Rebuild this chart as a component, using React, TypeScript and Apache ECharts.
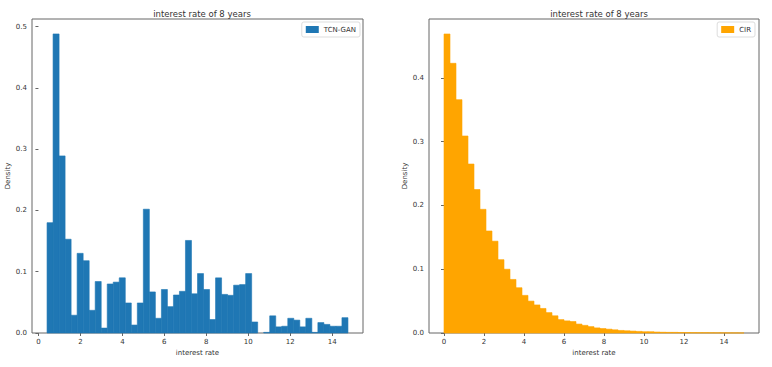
import React, { useEffect, useRef } from "react";
import * as echarts from "echarts";

// ---- Data ----
const titleText = "interest rate of 8 years";
const xAxisName = "interest rate";
const yAxisName = "Density";

// TCN-GAN histogram: 50 bins from 0.41 to 14.75
const tcnName = "TCN-GAN";
const tcnRange = [0.41, 14.75];
const tcnDensity = [
  0.18, 0.488, 0.289, 0.153, 0.029, 0.13, 0.118, 0.037, 0.084, 0.008,
  0.08, 0.083, 0.09, 0.049, 0.013, 0.049, 0.202, 0.067, 0.024, 0.071,
  0.043, 0.062, 0.068, 0.151, 0.064, 0.097, 0.071, 0.022, 0.09, 0.063,
  0.0615, 0.078, 0.079, 0.097, 0.018, 0.0, 0.001, 0.028, 0.01, 0.011,
  0.024, 0.021, 0.01, 0.024, 0.001, 0.017, 0.014, 0.011, 0.011, 0.025,
];

// CIR histogram: 50 bins from 0 to 15
const cirName = "CIR";
const cirRange = [0, 15];
const cirDensity = [
  0.469, 0.423, 0.366, 0.309, 0.265, 0.225, 0.194, 0.16, 0.144, 0.115,
  0.1, 0.084, 0.071, 0.059, 0.05, 0.044, 0.0385, 0.032, 0.027, 0.021,
  0.019, 0.018, 0.014, 0.012, 0.01, 0.008, 0.007, 0.006, 0.005, 0.004,
  0.0035, 0.003, 0.0025, 0.002, 0.002, 0.0015, 0.0012, 0.001, 0.001, 0.0008,
  0.0007, 0.0006, 0.0005, 0.0005, 0.0004, 0.0003, 0.0003, 0.0002, 0.0002, 0.0001,
];

const xTicks = [0, 2, 4, 6, 8, 10, 12, 14];
const leftYTicks = [0, 0.1, 0.2, 0.3, 0.4, 0.5];
const rightYTicks = [0, 0.1, 0.2, 0.3, 0.4];

function toBins(range: number[], dens: number[]) {
  const w = (range[1] - range[0]) / dens.length;
  return dens.map((d, i) => [range[0] + i * w, range[0] + (i + 1) * w, d]);
}

const FONT = "DejaVu Sans";
const SPINE = "#666";
const TXT = "#333";

export default function App() {
  const ref = useRef<HTMLDivElement>(null);
  useEffect(() => {
    if (!ref.current) return;
    const chart = echarts.init(ref.current, undefined, { renderer: "svg" });

    const renderItem = (params: any, api: any) => {
      const x0 = api.value(0);
      const x1 = api.value(1);
      const y = api.value(2);
      const p0 = api.coord([x0, y]);
      const p1 = api.coord([x1, 0]);
      const c = api.visual("color");
      return {
        type: "rect",
        shape: { x: p0[0], y: p0[1], width: p1[0] - p0[0], height: p1[1] - p0[1] },
        style: { fill: c, stroke: y > 0 ? c : "none", lineWidth: 0.6 },
      };
    };

    const xAxisCommon = (min: number, max: number) => ({
      type: "value",
      min,
      max,
      name: xAxisName,
      nameLocation: "middle",
      nameGap: 16,
      nameTextStyle: { fontFamily: FONT, fontSize: 7, color: TXT },
      splitLine: { show: false },
      axisLine: { show: false },
      axisTick: { show: true, inside: false, length: 3, lineStyle: { color: SPINE }, customValues: xTicks },
      axisLabel: { fontFamily: FONT, fontSize: 7, color: TXT, margin: 5, customValues: xTicks, formatter: (v: number) => String(v) },
    });
    const yAxisCommon = (max: number, ticks: number[]) => ({
      type: "value",
      min: 0,
      max,
      name: yAxisName,
      nameLocation: "middle",
      nameGap: 20,
      nameTextStyle: { fontFamily: FONT, fontSize: 7, color: TXT },
      splitLine: { show: false },
      axisLine: { show: false },
      axisTick: { show: true, inside: false, length: 3, lineStyle: { color: SPINE }, customValues: ticks },
      axisLabel: { fontFamily: FONT, fontSize: 7, color: TXT, margin: 5, customValues: ticks, formatter: (v: number) => v.toFixed(1) },
    });

    chart.setOption({
      animation: false,
      backgroundColor: "#fff",
      title: [
        { text: titleText, left: 197, top: 4, textAlign: "center", textStyle: { fontFamily: FONT, fontSize: 8.5, fontWeight: "normal", color: TXT } },
        { text: titleText, left: 594, top: 4, textAlign: "center", textStyle: { fontFamily: FONT, fontSize: 8.5, fontWeight: "normal", color: TXT } },
      ],
      legend: [
        {
          data: [tcnName], right: 412, top: 22, orient: "vertical",
          icon: "rect", itemWidth: 13, itemHeight: 7, padding: [4, 4, 4, 4],
          borderColor: "#ddd", borderWidth: 1, borderRadius: 2, backgroundColor: "#fff",
          textStyle: { fontFamily: FONT, fontSize: 7, color: TXT }, selectedMode: false,
        },
        {
          data: [cirName], right: 17, top: 22, orient: "vertical",
          icon: "rect", itemWidth: 13, itemHeight: 7, padding: [4, 4, 4, 4],
          borderColor: "#ddd", borderWidth: 1, borderRadius: 2, backgroundColor: "#fff",
          textStyle: { fontFamily: FONT, fontSize: 7, color: TXT }, selectedMode: false,
        },
      ],
      grid: [
        { left: 32, right: 409, top: 19, bottom: 34, show: true, borderColor: SPINE, borderWidth: 1, backgroundColor: "transparent" },
        { left: 429, right: 13, top: 19, bottom: 34, show: true, borderColor: SPINE, borderWidth: 1, backgroundColor: "transparent" },
      ],
      xAxis: [
        { ...xAxisCommon(-0.307, 15.467), gridIndex: 0 },
        { ...xAxisCommon(-0.75, 15.75), gridIndex: 1 },
      ],
      yAxis: [
        { ...yAxisCommon(0.5124, leftYTicks), gridIndex: 0 },
        { ...yAxisCommon(0.4925, rightYTicks), gridIndex: 1 },
      ],
      series: [
        {
          name: tcnName, type: "custom", xAxisIndex: 0, yAxisIndex: 0,
          itemStyle: { color: "#1f77b4" }, color: "#1f77b4",
          encode: { x: [0, 1], y: 2 },
          data: toBins(tcnRange, tcnDensity), renderItem,
        },
        {
          name: cirName, type: "custom", xAxisIndex: 1, yAxisIndex: 1,
          itemStyle: { color: "#ffa500" }, color: "#ffa500",
          encode: { x: [0, 1], y: 2 },
          data: toBins(cirRange, cirDensity), renderItem,
        },
      ],
    });
    return () => chart.dispose();
  }, []);
  return <div ref={ref} style={{ position: "fixed", left: 0, top: 0, width: 772, height: 367 }} />;
}
